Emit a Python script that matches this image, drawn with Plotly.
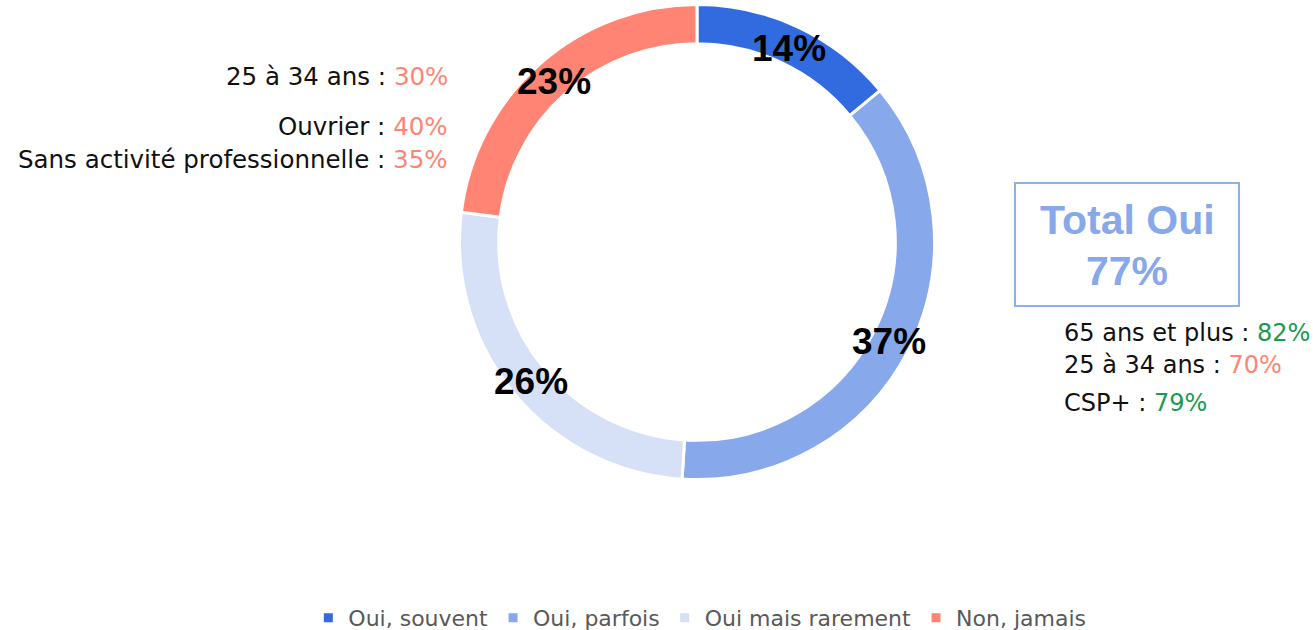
import math
import plotly.graph_objects as go

categories = ["Oui, souvent", "Oui, parfois", "Oui mais rarement", "Non, jamais"]
values = [14, 37, 26, 23]
colors = ["#316BDF", "#87A8EB", "#D6E0F6", "#FF8474"]

left_notes = [("25 à 34 ans : ", "30%"), ("Ouvrier : ", "40%"), ("Sans activité professionnelle : ", "35%")]
right_notes = [("65 ans et plus : ", "82%", "#1A9A4F"), ("25 à 34 ans : ", "70%", "#FF8474"), ("CSP+ : ", "79%", "#1A9A4F")]
total_label = "Total Oui"
total_value = "77%"

FONT = "DejaVu Sans"
BOLD = "Liberation Sans"
W, H = 1313, 630
cx, cy = 697, 242
half = 237.5
dom_x = [(cx - half) / W, (cx + half) / W]
dom_y = [1 - (cy + half) / H, 1 - (cy - half) / H]

fig = go.Figure(go.Pie(
    labels=categories, values=values, hole=0.835, sort=False, direction="clockwise",
    rotation=0, marker=dict(colors=colors, line=dict(color="white", width=3)),
    textinfo="none", hoverinfo="label+percent", domain=dict(x=dom_x, y=dom_y),
))

# slice labels at ring middle
total = sum(values)
cum = 0
rl = 216
for v in values:
    mid = (cum + v / 2) / total * 2 * math.pi
    cum += v
    x = cx + rl * math.sin(mid)
    y = cy - rl * math.cos(mid) + 1.5
    fig.add_annotation(x=x / W, y=1 - y / H, xref="paper", yref="paper", showarrow=False,
                       xanchor="center", yanchor="middle",
                       text=f"<b>{v}%</b>", font=dict(family=BOLD, size=37, color="black"))

ly = [76, 127, 159]
for (lab, val), y in zip(left_notes, ly):
    fig.add_annotation(x=450 / W, y=1 - y / H, xref="paper", yref="paper", showarrow=False,
                       xanchor="right", yanchor="middle",
                       text=f"{lab}<span style='color:#FF8474'>{val}</span>",
                       font=dict(family=FONT, size=24.5, color="#111111"))

ry = [333, 365, 403]
for (lab, val, col), y in zip(right_notes, ry):
    fig.add_annotation(x=1062 / W, y=1 - y / H, xref="paper", yref="paper", showarrow=False,
                       xanchor="left", yanchor="middle",
                       text=f"{lab}<span style='color:{col}'>{val}</span>",
                       font=dict(family=FONT, size=24, color="#111111"))

fig.add_shape(type="rect", xref="paper", yref="paper", x0=1015 / W, x1=1239 / W,
              y0=1 - 306 / H, y1=1 - 183 / H, line=dict(color="#8EAEEC", width=2))
fig.add_annotation(x=1127 / W, y=1 - 220 / H, xref="paper", yref="paper", showarrow=False,
                   xanchor="center", yanchor="middle",
                   text=f"<b>{total_label}</b>", font=dict(family=BOLD, size=41, color="#87A8EB"))
fig.add_annotation(x=1127 / W, y=1 - 271 / H, xref="paper", yref="paper", showarrow=False,
                   xanchor="center", yanchor="middle",
                   text=f"<b>{total_value}</b>", font=dict(family=BOLD, size=41, color="#87A8EB"))

fig.update_layout(
    width=W, height=H, margin=dict(l=0, r=0, t=0, b=0, autoexpand=False),
    paper_bgcolor="white", plot_bgcolor="white",
    showlegend=True,
    legend=dict(orientation="h", x=0.533, xanchor="center", y=1 - 618 / H, yanchor="middle",
                font=dict(family=FONT, size=22, color="#595959"), itemwidth=30,
                traceorder="normal"),
)
fig.write_html("out.html", config={"displayModeBar": False},
               post_script="document.body.style.margin='0';document.body.style.padding='0';")
